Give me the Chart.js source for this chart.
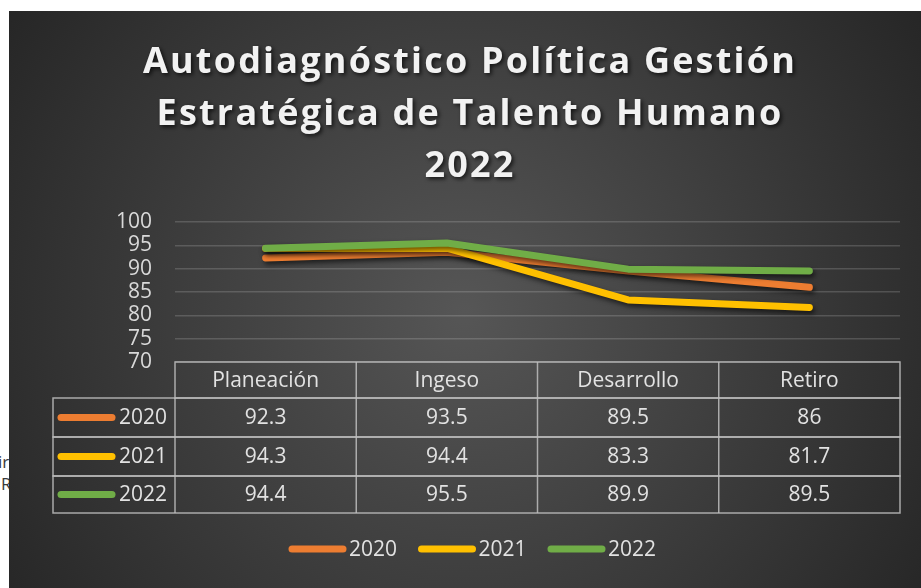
<!DOCTYPE html>
<html>
<head>
<meta charset="utf-8">
<script src="https://cdn.jsdelivr.net/npm/chart.js@4/dist/chart.umd.min.js"></script>
<style>
  body { margin: 0; background: #fff; width: 921px; height: 588px; overflow: hidden; position: relative; }
  #wrap { position: absolute; left: 9px; top: 11px; width: 912px; height: 577px; z-index: 2; }
  .cut { position: absolute; font-family: "Open Sans", sans-serif; font-size: 17px; color: #3a3a3a; z-index: 1; }
</style>
</head>
<body>
<div class="cut" style="left:-2px; top:450px;">ir</div>
<div class="cut" style="left:1px; top:472px;">R</div>
<div id="wrap"><canvas id="line_chart" width="912" height="577"></canvas></div>
<script>
const categories = ['Planeación', 'Ingeso', 'Desarrollo', 'Retiro'];
const seriesNames = ['2020', '2021', '2022'];
const values2020 = [92.3, 93.5, 89.5, 86];
const values2021 = [94.3, 94.4, 83.3, 81.7];
const values2022 = [94.4, 95.5, 89.9, 89.5];
const yTicks = [70, 75, 80, 85, 90, 95, 100];
const titleLines = ['Autodiagnóstico Política Gestión', 'Estratégica de Talento Humano', '2022'];
const colors = ['#ED7D31', '#FFC000', '#70AD47'];

const FONT = '"Open Sans", sans-serif';
const TEXT = '#e2e2e2';

const background = {
    id: 'background',
    beforeDraw(chart) {
        const c = chart.ctx, w = chart.width, h = chart.height;
        const g = c.createRadialGradient(w * 0.5, h * 0.52, 0, w * 0.5, h * 0.52, 560);
        g.addColorStop(0, '#565656');
        g.addColorStop(1, '#252525');
        c.save();
        c.fillStyle = g;
        c.fillRect(0, 0, w, h);
        // title
        c.font = 'bold 36px ' + FONT;
        c.letterSpacing = '2.2px';
        c.fillStyle = '#f2f2f2';
        c.textAlign = 'center';
        c.textBaseline = 'middle';
        c.shadowColor = 'rgba(0,0,0,0.7)';
        c.shadowBlur = 4;
        c.shadowOffsetX = 2;
        c.shadowOffsetY = 2;
        titleLines.forEach((t, i) => c.fillText(t, 461, 52 + i * 52));
        c.restore();
    }
};

const lineShadow = {
    id: 'lineShadow',
    beforeDatasetDraw(chart) {
        const c = chart.ctx;
        c.save();
        c.shadowColor = 'rgba(0,0,0,0.6)';
        c.shadowBlur = 5;
        c.shadowOffsetX = 2;
        c.shadowOffsetY = 3;
    },
    afterDatasetDraw(chart) {
        chart.ctx.restore();
    }
};

function drawKey(c, x, y, color) {
    c.save();
    c.strokeStyle = color;
    c.lineWidth = 7;
    c.lineCap = 'round';
    c.beginPath();
    c.moveTo(x + 3, y);
    c.lineTo(x + 54, y);
    c.stroke();
    c.restore();
}

const dataTable = {
    id: 'dataTable',
    afterDraw(chart) {
        const c = chart.ctx;
        const area = chart.chartArea;
        const xs = chart.scales.x;
        const colW = (area.right - area.left) / categories.length;
        const headTop = area.bottom, headBot = headTop + 36;
        const rowH = [39, 39, 37];
        const labelLeft = 44;
        const rows = [values2020, values2021, values2022];
        c.save();
        c.strokeStyle = 'rgba(190,190,190,0.85)';
        c.lineWidth = 1.5;
        // header
        c.strokeRect(area.left, headTop, area.right - area.left, headBot - headTop);
        c.font = '21px ' + FONT;
        c.fillStyle = TEXT;
        c.textAlign = 'center';
        c.textBaseline = 'middle';
        categories.forEach((cat, i) => {
            const cx = xs.getPixelForValue(i);
            if (i > 0) {
                c.beginPath();
                c.moveTo(cx - colW / 2, headTop);
                c.lineTo(cx - colW / 2, headBot);
                c.stroke();
            }
            c.fillText(cat, cx, (headTop + headBot) / 2 + 1);
        });
        let top = headBot;
        rows.forEach((vals, r) => {
            const bot = top + rowH[r];
            const mid = (top + bot) / 2;
            c.strokeRect(labelLeft, top, area.right - labelLeft, bot - top);
            c.beginPath();
            c.moveTo(area.left, top);
            c.lineTo(area.left, bot);
            c.stroke();
            vals.forEach((v, i) => {
                const cx = xs.getPixelForValue(i);
                if (i > 0) {
                    c.beginPath();
                    c.moveTo(cx - colW / 2, top);
                    c.lineTo(cx - colW / 2, bot);
                    c.stroke();
                }
                c.textAlign = 'center';
                c.fillText(String(v), cx, mid + 1);
            });
            drawKey(c, labelLeft + 5, mid, colors[r]);
            c.textAlign = 'left';
            c.fillText(seriesNames[r], labelLeft + 66, mid + 1);
            top = bot;
        });
        // legend
        const ly = 538;
        const startX = 280;
        seriesNames.forEach((name, i) => {
            const x = startX + i * 129.5;
            drawKey(c, x, ly, colors[i]);
            c.textAlign = 'left';
            c.fillStyle = TEXT;
            c.fillText(name, x + 60, ly + 1);
        });
        c.restore();
    }
};

const ctx = document.getElementById('line_chart').getContext('2d');

new Chart(ctx, {
    type: 'line',
    data: {
        labels: categories,
        datasets: [
            { label: seriesNames[0], data: values2020, borderColor: colors[0], order: 2 },
            { label: seriesNames[1], data: values2021, borderColor: colors[1], order: 1 },
            { label: seriesNames[2], data: values2022, borderColor: colors[2], order: 0 }
        ]
    },
    options: {
        responsive: false,
        animation: false,
        devicePixelRatio: 1,
        layout: { padding: { top: 211, bottom: 226, left: 0, right: 21 } },
        elements: {
            line: { borderWidth: 7, borderCapStyle: 'round', borderJoinStyle: 'round', tension: 0 },
            point: { radius: 0, hoverRadius: 0 }
        },
        plugins: {
            legend: { display: false },
            title: { display: false },
            tooltip: { enabled: false }
        },
        scales: {
            x: { display: false, offset: true },
            y: {
                min: yTicks[0],
                max: yTicks[yTicks.length - 1],
                afterBuildTicks(scale) { scale.ticks = yTicks.map(v => ({ value: v })); },
                afterFit(scale) { scale.width = 166; },
                border: { display: false },
                grid: { color: 'rgba(255,255,255,0.16)', lineWidth: 1.5, drawTicks: false },
                ticks: { color: '#d9d9d9', font: { family: FONT, size: 21 }, padding: 23, autoSkip: false }
            }
        }
    },
    plugins: [background, lineShadow, dataTable]
});
</script>
</body>
</html>
